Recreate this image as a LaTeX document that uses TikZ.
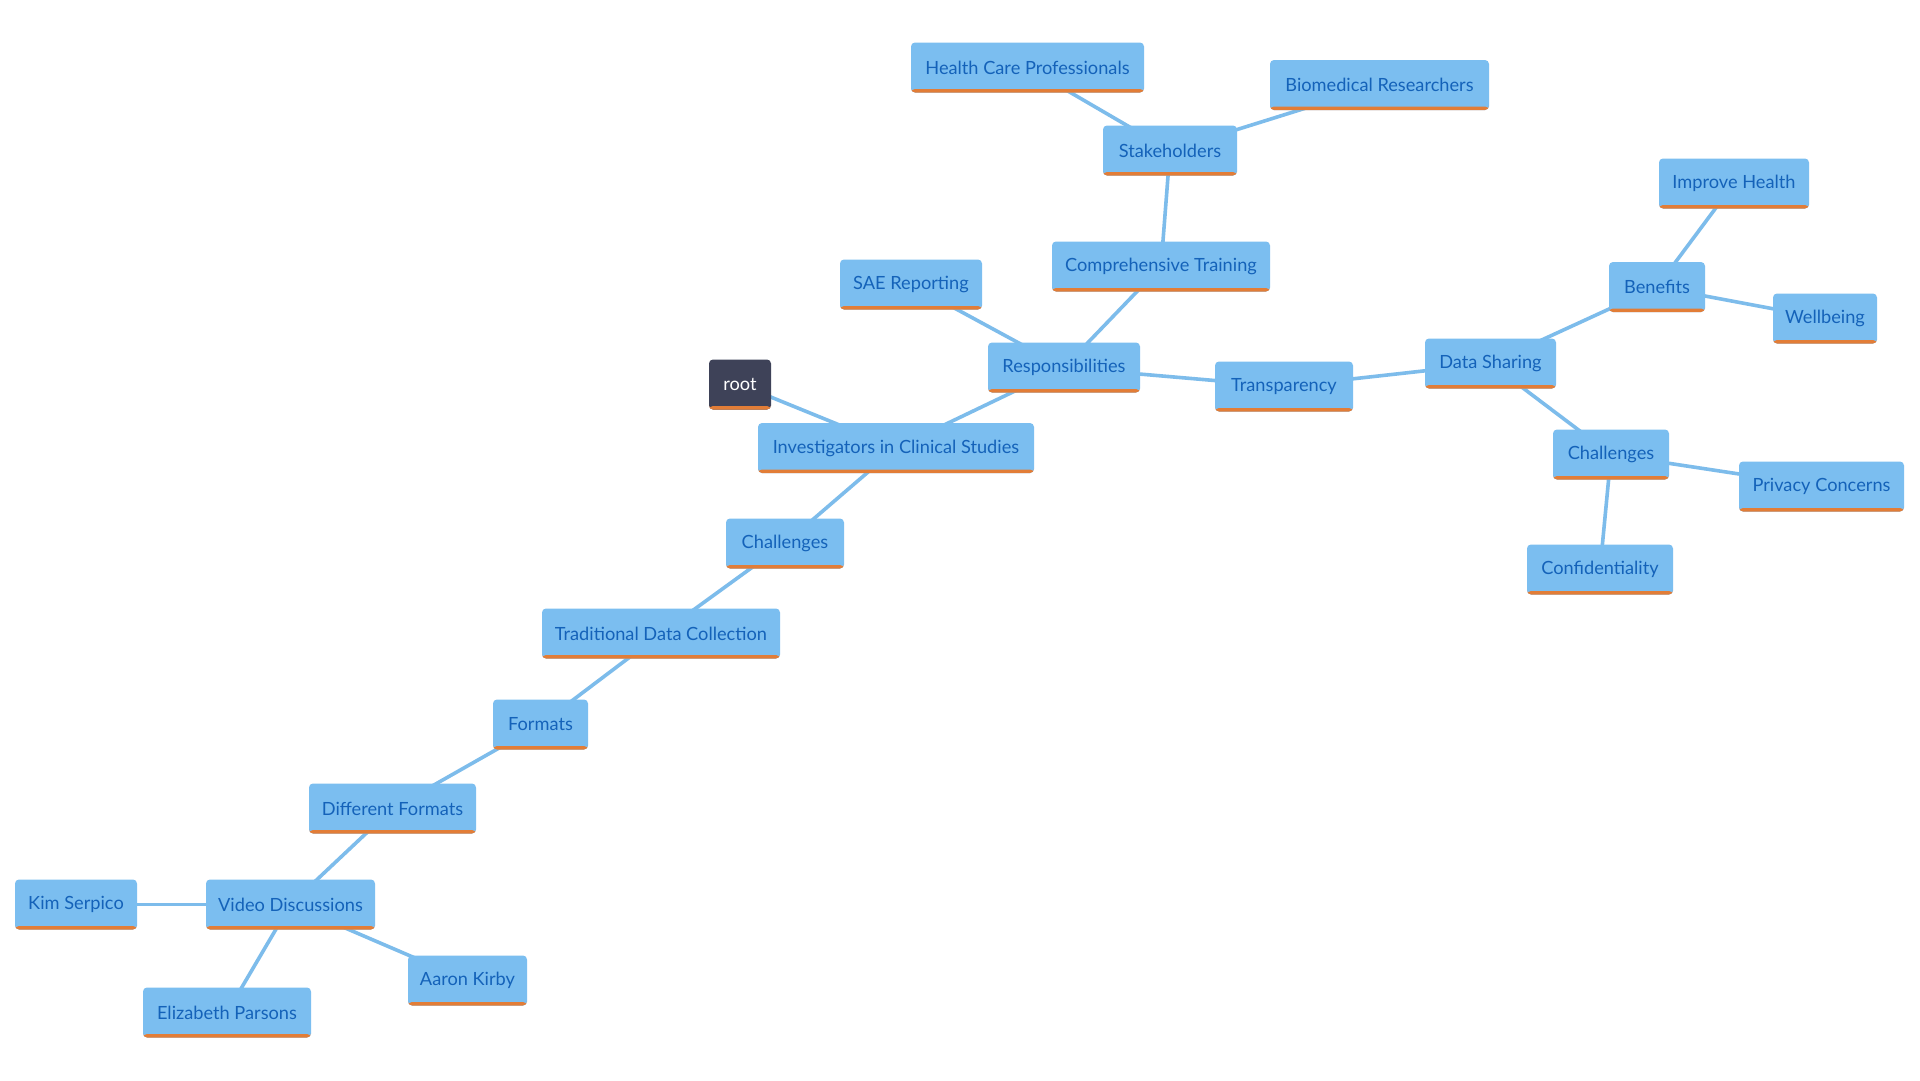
\documentclass[tikz,border=0pt]{standalone}
\usepackage{fontspec}
\setmainfont{Lato}
\usetikzlibrary{backgrounds}
\definecolor{boxfill}{RGB}{123,190,240}
\definecolor{boxtext}{RGB}{20,98,185}
\definecolor{boxorange}{RGB}{226,125,55}
\definecolor{rootfill}{RGB}{62,66,88}
\definecolor{edgecol}{RGB}{125,188,235}
\begin{document}
\begin{tikzpicture}[x=1pt,y=-1pt,
  box/.style={rectangle, rounded corners=4pt, fill=boxfill, text=boxtext, inner sep=0pt,
    minimum height=50pt, font=\fontsize{18.2}{21}\selectfont,
    path picture={\fill[boxorange] ([yshift=3.5pt]path picture bounding box.south west) rectangle (path picture bounding box.south east);}},
  rootbox/.style={box, fill=rootfill, text=white},
  link/.style={draw=edgecol, line width=3.6pt}]
\useasboundingbox (0,0) rectangle (1920,1080);
% nodes
\node[rootbox, minimum width=62pt] (root) at (740,384.5) {root};
\node[box, minimum width=276pt] (inv) at (896,448) {Investigators in Clinical Studies};
\node[box, minimum width=152pt] (resp) at (1064,367.5) {Responsibilities};
\node[box, minimum width=142pt] (sae) at (911,284.5) {SAE Reporting};
\node[box, minimum width=218pt] (comp) at (1161,266.5) {Comprehensive Training};
\node[box, minimum width=134pt] (stake) at (1170,150.5) {Stakeholders};
\node[box, minimum width=233pt] (hcp) at (1027.5,67.5) {Health Care Professionals};
\node[box, minimum width=219pt] (bio) at (1379.5,85) {Biomedical Researchers};
\node[box, minimum width=138pt] (transp) at (1284,386.5) {Transparency};
\node[box, minimum width=131pt] (ds) at (1490.5,363.5) {Data Sharing};
\node[box, minimum width=96pt] (ben) at (1657,287) {Benefits};
\node[box, minimum width=150pt] (imp) at (1734,183.5) {Improve Health};
\node[box, minimum width=104pt] (well) at (1825,318.5) {Wellbeing};
\node[box, minimum width=116pt] (chR) at (1611,454.5) {Challenges};
\node[box, minimum width=165pt] (priv) at (1821.5,486.5) {Privacy Concerns};
\node[box, minimum width=146pt] (conf) at (1600,569.5) {Confidentiality};
\node[box, minimum width=118pt] (chL) at (785,543.5) {Challenges};
\node[box, minimum width=238pt] (tdc) at (661,633.5) {Traditional Data Collection};
\node[box, minimum width=95pt] (fmt) at (540.5,724.5) {Formats};
\node[box, minimum width=167pt] (diff) at (392.5,808.5) {Different Formats};
\node[box, minimum width=169pt] (vid) at (290.5,904.5) {Video Discussions};
\node[box, minimum width=122pt] (kim) at (76,904.5) {Kim Serpico};
\node[box, minimum width=168pt] (eliz) at (227,1012.5) {Elizabeth Parsons};
\node[box, minimum width=119pt] (aaron) at (467.5,980.5) {Aaron Kirby};
% links
\begin{scope}[on background layer]
\fill[white] (0,0) rectangle (1920,1080);
\foreach \a/\b in {root/inv, inv/resp, resp/sae, resp/comp, comp/stake, stake/hcp, stake/bio,
  resp/transp, transp/ds, ds/ben, ben/imp, ben/well, ds/chR, chR/priv, chR/conf,
  inv/chL, chL/tdc, tdc/fmt, fmt/diff, diff/vid, vid/kim, vid/eliz, vid/aaron}
  \draw[link] (\a.center) -- (\b.center);
\end{scope}
\end{tikzpicture}
\end{document}
